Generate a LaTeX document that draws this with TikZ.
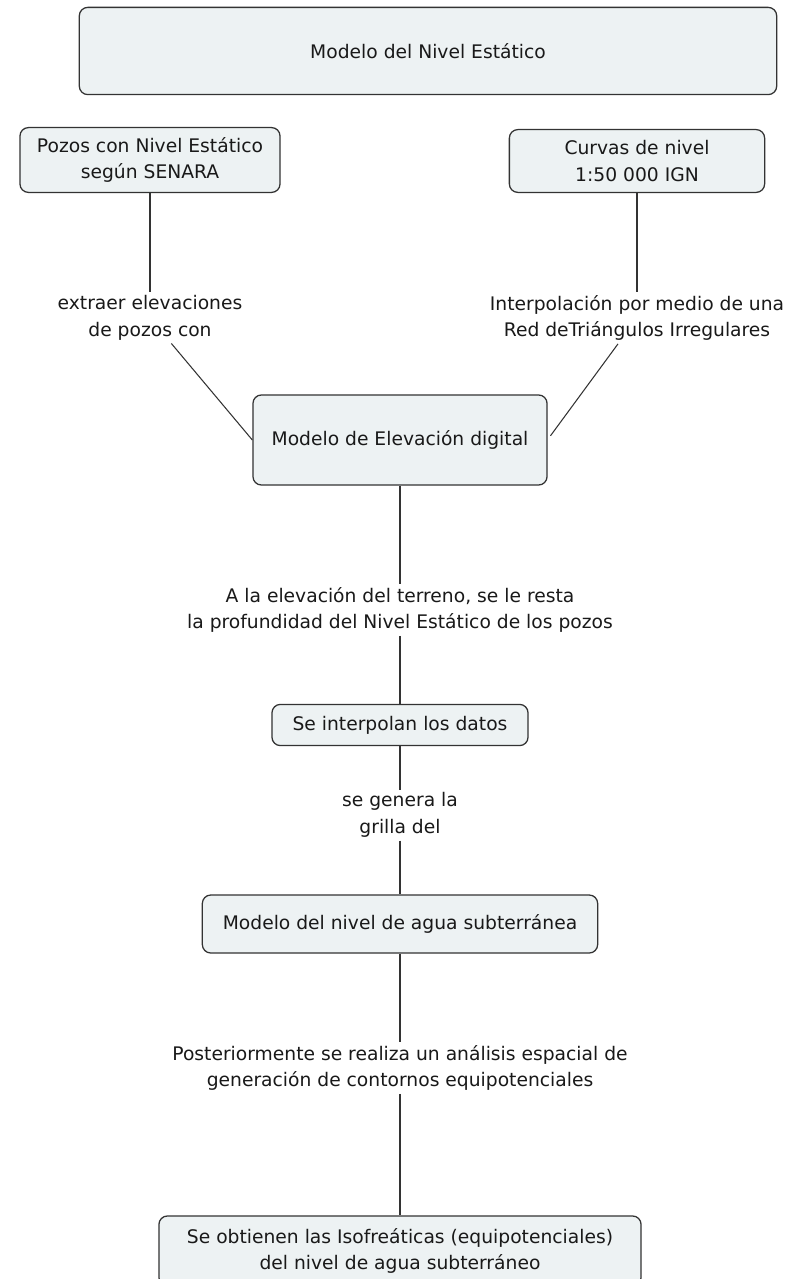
\documentclass[tikz,border=0pt]{standalone}
\usepackage{fontspec}
\setmainfont{DejaVu Sans}
\usetikzlibrary{positioning}

\definecolor{boxfill}{HTML}{EDF2F3}
\definecolor{linegray}{HTML}{333333}

\begin{document}
\begin{tikzpicture}[
    x=0.025cm, y=-0.025cm,
    every node/.style={font=\fontsize{13.3}{19}\selectfont, text=black!90},
    concept/.style={
        draw=linegray,
        fill=boxfill,
        rounded corners=6pt,
        line width=0.9pt,
        align=center,
        inner sep=2pt
    },
    phrase/.style={
        align=center,
        fill=white,
        inner sep=2pt
    },
    link/.style={draw=linegray, line width=0.75pt}
]

\useasboundingbox (0,0) rectangle (800,1279);

%------------------------------------------------
% Concepts
%------------------------------------------------
\node[concept, minimum width=17.43cm, minimum height=2.18cm] (nivel) at (428,51)
    {Modelo del Nivel Estático};

\node[concept, minimum width=6.5cm, minimum height=1.62cm] (pozos) at (150,160)
    {Pozos con Nivel Estático\\según SENARA};
\node[concept, minimum width=6.38cm, minimum height=1.57cm] (curvas) at (637,161)
    {Curvas de nivel\\1:50 000 IGN};

\node[concept, minimum width=7.35cm, minimum height=2.25cm] (med) at (400,440)
    {Modelo de Elevación digital};

\node[concept, minimum width=6.4cm, minimum height=1.03cm] (interp) at (400,725)
    {Se interpolan los datos};

\node[concept, minimum width=9.88cm, minimum height=1.45cm] (agua) at (400,924)
    {Modelo del nivel de agua subterránea};

\node[concept, minimum width=12.05cm, minimum height=1.75cm] (iso) at (400,1251)
    {Se obtienen las Isofreáticas (equipotenciales)\\del nivel de agua subterráneo};

%------------------------------------------------
% Linking phrases
%------------------------------------------------
\node[phrase] (extraer) at (150,318) {extraer elevaciones\\de pozos con};
\node[phrase] (tin)     at (637,318) {Interpolación por medio de una\\Red deTriángulos Irregulares};
\node[phrase] (resta)   at (400,610) {A la elevación del terreno, se le resta\\la profundidad del Nivel Estático de los pozos};
\node[phrase] (grilla)  at (400,815) {se genera la\\grilla del};
\node[phrase] (contor)  at (400,1068) {Posteriormente se realiza un análisis espacial de\\generación de contornos equipotenciales};

%------------------------------------------------
% Links
%------------------------------------------------
\draw[link] (pozos) -- (extraer);
\draw[link] (extraer) -- (med.west);

\draw[link] (curvas) -- (tin);
\draw[link] (tin) -- ([xshift=2pt,yshift=3pt]med.east);

\draw[link] (med) -- (resta);
\draw[link] (resta) -- (interp);

\draw[link] (interp) -- (grilla);
\draw[link] (grilla) -- (agua);

\draw[link] (agua) -- (contor);
\draw[link] (contor) -- (iso);

\end{tikzpicture}
\end{document}
